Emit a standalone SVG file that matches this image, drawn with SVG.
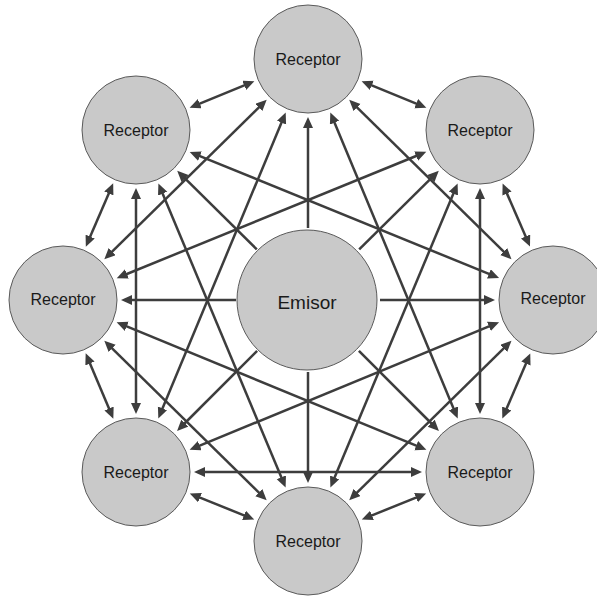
<svg xmlns="http://www.w3.org/2000/svg" width="597" height="597" viewBox="0 0 597 597">
<style>
.node circle{fill:#c9c9c9;stroke:#5a5a5a;stroke-width:1}
.node text{font-family:"Liberation Sans",Arial,sans-serif;font-size:16px;fill:#1a1a1a;text-anchor:middle}
#emisor text{font-size:19px}
.edges line{stroke:#3d3d3d;stroke-width:2.5}
.one{marker-end:url(#ah)}
.two{marker-start:url(#ah);marker-end:url(#ah)}
</style>
<defs>
<marker id="ah" markerUnits="userSpaceOnUse" markerWidth="12" markerHeight="11" refX="4" refY="5" orient="auto-start-reverse">
<path d="M0,0 L11,5 L0,10 z" fill="#3d3d3d"/>
</marker>
</defs>
<rect width="597" height="597" fill="#ffffff"/>
<g class="edges" id="connectors">
<line class="one" x1="308" y1="228" x2="308" y2="124"/>
<line class="one" x1="308" y1="372" x2="308" y2="476"/>
<line class="one" x1="236" y1="300" x2="128" y2="300"/>
<line class="one" x1="380" y1="300" x2="488" y2="300"/>
<line class="one" x1="256.8" y1="249.4" x2="182.2" y2="175.7"/>
<line class="one" x1="359.2" y1="249.4" x2="433.8" y2="175.7"/>
<line class="one" x1="358.9" y1="350.9" x2="434" y2="426"/>
<line class="one" x1="257.1" y1="350.9" x2="182" y2="426"/>
<line class="two" x1="368.1" y1="83.8" x2="419.9" y2="105.2"/>
<line class="two" x1="505.4" y1="189.9" x2="527.2" y2="240.1"/>
<line class="two" x1="527.5" y1="359.9" x2="505.1" y2="412.1"/>
<line class="two" x1="419.7" y1="496.2" x2="368.3" y2="516.8"/>
<line class="two" x1="247.7" y1="516.8" x2="196.3" y2="496.2"/>
<line class="two" x1="110.6" y1="412.2" x2="88.4" y2="359.8"/>
<line class="two" x1="88.6" y1="240.3" x2="110.4" y2="189.7"/>
<line class="two" x1="196.1" y1="105.2" x2="247.9" y2="83.8"/>
<line class="two" x1="354.2" y1="104.7" x2="506.5" y2="254.3"/>
<line class="two" x1="506.5" y1="345.7" x2="354.2" y2="495.3"/>
<line class="two" x1="261.7" y1="495.4" x2="109.3" y2="345.6"/>
<line class="two" x1="109.3" y1="254.4" x2="261.7" y2="104.6"/>
<line class="two" x1="480" y1="195" x2="480" y2="407"/>
<line class="two" x1="201" y1="472" x2="415" y2="472"/>
<line class="two" x1="136" y1="195" x2="136" y2="407"/>
<line class="two" x1="333" y1="119" x2="455" y2="412"/>
<line class="two" x1="454.9" y1="190" x2="333.1" y2="481"/>
<line class="two" x1="492.6" y1="324.8" x2="196.1" y2="447.2"/>
<line class="two" x1="419.9" y1="447.2" x2="123.1" y2="324.8"/>
<line class="two" x1="282.9" y1="481" x2="161.1" y2="190"/>
<line class="two" x1="161" y1="412" x2="283" y2="119"/>
<line class="two" x1="123.2" y1="275.5" x2="419.8" y2="154.5"/>
<line class="two" x1="196.2" y1="154.6" x2="492.6" y2="275.4"/>
</g>
<g class="node" id="emisor"><circle cx="307" cy="300" r="70"/><text x="307" y="309">Emisor</text></g>
<g class="node" id="receptor-top"><circle cx="308" cy="59" r="54"/><text x="308" y="65">Receptor</text></g>
<g class="node" id="receptor-top-right"><circle cx="480" cy="130" r="54"/><text x="480" y="136">Receptor</text></g>
<g class="node" id="receptor-right"><circle cx="553" cy="300" r="54"/><text x="553" y="304">Receptor</text></g>
<g class="node" id="receptor-bottom-right"><circle cx="480" cy="472" r="54"/><text x="480" y="478">Receptor</text></g>
<g class="node" id="receptor-bottom"><circle cx="308" cy="541" r="54"/><text x="308" y="547">Receptor</text></g>
<g class="node" id="receptor-bottom-left"><circle cx="136" cy="472" r="54"/><text x="136" y="478">Receptor</text></g>
<g class="node" id="receptor-left"><circle cx="63" cy="300" r="54"/><text x="63" y="305">Receptor</text></g>
<g class="node" id="receptor-top-left"><circle cx="136" cy="130" r="54"/><text x="136" y="136">Receptor</text></g>
</svg>
